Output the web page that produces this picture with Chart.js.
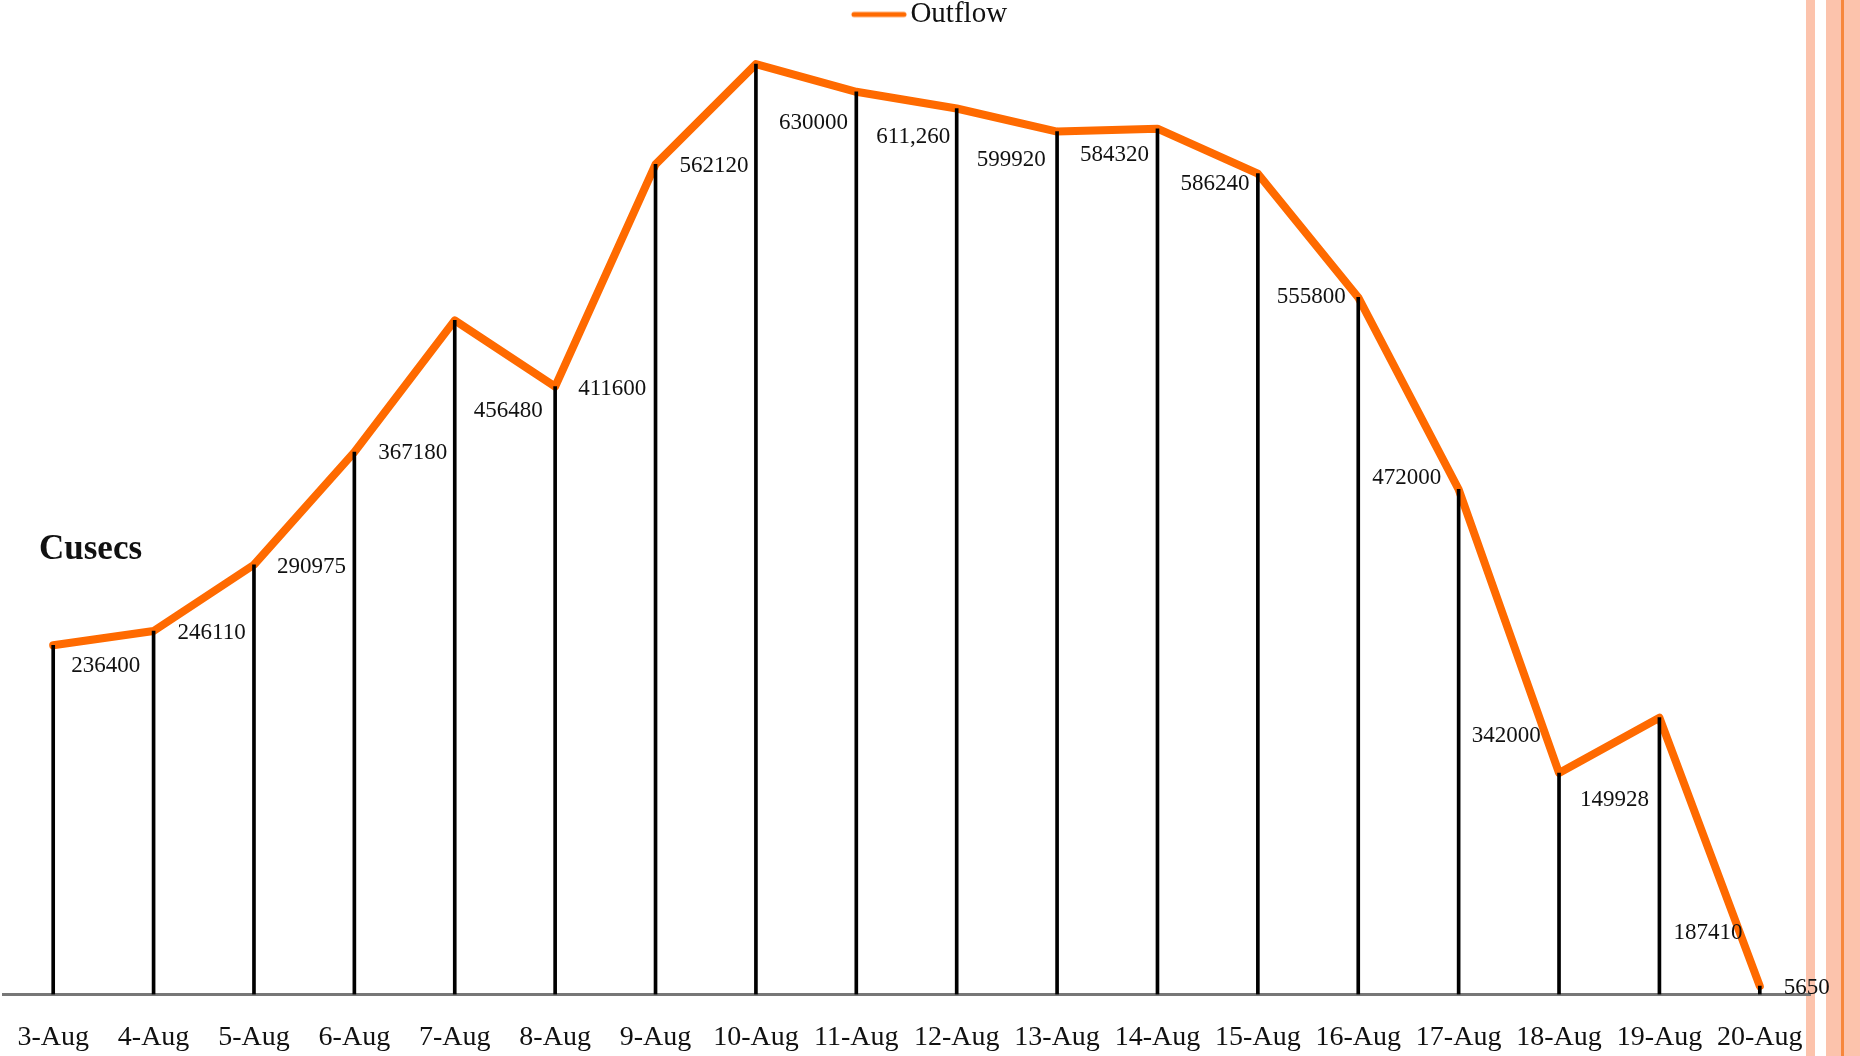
<!DOCTYPE html>
<html>
<head>
<meta charset="utf-8">
<script src="https://cdn.jsdelivr.net/npm/chart.js@4"></script>
<style>
    html, body { margin: 0; padding: 0; background: #fff; overflow: hidden; }
    #wrap { position: relative; width: 1860px; height: 1056px; }
    #wrap canvas { position: absolute; left: 0; top: 0; z-index: 2; }
    .stripe { position: absolute; top: 0; height: 1056px; z-index: 1; background: #fcc3ac; }
    .stripe.line { background: #f7873c; }
</style>
</head>
<body>
<div id="wrap">
    <div class="stripe" style="left:1806px; width:9px;"></div>
    <div class="stripe" style="left:1826px; width:34px;"></div>
    <div class="stripe line" style="left:1841px; width:3px;"></div>
    <canvas id="outflowChart"></canvas>
</div>
<script>
const dates = ['3-Aug', '4-Aug', '5-Aug', '6-Aug', '7-Aug', '8-Aug', '9-Aug', '10-Aug', '11-Aug',
    '12-Aug', '13-Aug', '14-Aug', '15-Aug', '16-Aug', '17-Aug', '18-Aug', '19-Aug', '20-Aug'];
const outflow = [236400, 246110, 290975, 367180, 456480, 411600, 562120, 630000, 611260,
    599920, 584320, 586240, 555800, 472000, 342000, 149928, 187410, 5650];
// label text exactly as printed on the slide (one has a comma)
const outflowText = ['236400', '246110', '290975', '367180', '456480', '411600', '562120', '630000', '611,260',
    '599920', '584320', '586240', '555800', '472000', '342000', '149928', '187410', '5650'];
// where each value label sits relative to its point (px right, px down)
const labelNudge = [[18, 21], [24, 2], [23, 2], [24, 1], [19, 91], [23, 2], [24, 2], [23, 59], [20, 45],
    [20, 51], [23, 23], [23, 55], [19, 123], [14, 181], [13, 247], [21, 27], [14, 215], [24, 2]];

const serif = '"Liberation Serif", "Times New Roman", serif';
const orange = '#ff6a00';

// legend swatch: the legend is centred on the plot (right padding), so the box is made
// wider and the line sits in the right part of the image, next to the text
function legendSwatch() {
    const c = document.createElement('canvas');
    c.width = 112;
    c.height = 8;
    const g = c.getContext('2d');
    g.strokeStyle = orange;
    g.lineWidth = 5;
    g.lineCap = 'round';
    g.beginPath();
    g.moveTo(59, 4);
    g.lineTo(109, 4);
    g.stroke();
    return c;
}

const valueLabels = {
    id: 'valueLabels',
    afterDatasetsDraw(chart) {
        const ctx = chart.ctx;
        const meta = chart.getDatasetMeta(1);
        ctx.save();
        ctx.fillStyle = '#111';
        ctx.font = '23px ' + serif;
        ctx.textAlign = 'left';
        ctx.textBaseline = 'middle';
        meta.data.forEach((pt, i) => {
            const [dx, dy] = labelNudge[i];
            ctx.fillText(outflowText[i], pt.x + dx, pt.y + dy);
        });
        // axis caption
        ctx.font = 'bold 35px ' + serif;
        ctx.textBaseline = 'alphabetic';
        ctx.fillText('Cusecs', 39, 559);
        ctx.restore();
    }
};

const ctx = document.getElementById('outflowChart').getContext('2d');
const outflowChart = new Chart(ctx, {
    type: 'bar',
    data: {
        labels: dates,
        datasets: [
            { type: 'bar', label: 'drop', data: outflow, backgroundColor: '#000', barThickness: 3, order: 0 },
            { type: 'line', label: 'Outflow', data: outflow, borderColor: orange, backgroundColor: orange,
              borderWidth: 8, pointRadius: 0, tension: 0, borderCapStyle: 'round', borderJoinStyle: 'round', order: 1 }
        ]
    },
    options: {
        responsive: true,
        maintainAspectRatio: false,
        animation: false,
        layout: { padding: { left: 3, right: 50, top: 0, bottom: 0 } },
        scales: {
            x: {
                // tick marks stay hidden, tickLength only reserves the gap above the labels
                grid: { display: false, drawTicks: true, tickLength: 24 },
                border: { display: true, color: '#777', width: 3 },
                ticks: { color: '#111', padding: 2, font: { family: serif, size: 28 }, maxRotation: 0, autoSkip: false }
            },
            y: { display: false, min: 0, max: 647000 }
        },
        plugins: {
            tooltip: { enabled: false },
            legend: {
                position: 'top',
                labels: {
                    color: '#111',
                    padding: 0,
                    font: { family: serif, size: 29 },
                    usePointStyle: true,
                    pointStyle: legendSwatch(),
                    pointStyleWidth: 90,
                    filter: item => item.datasetIndex === 1
                }
            }
        }
    },
    plugins: [valueLabels]
});
</script>
</body>
</html>
